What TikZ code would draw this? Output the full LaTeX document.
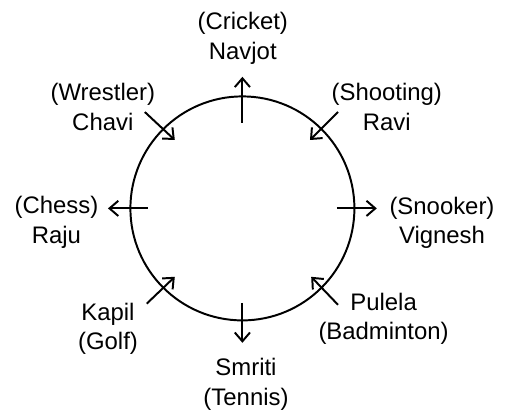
\documentclass[tikz,border=0pt]{standalone}
\usepackage{fontspec}
\setmainfont{Liberation Sans}
\usetikzlibrary{arrows.meta}

\begin{document}
\begin{tikzpicture}[
        every node/.style={align=center, inner sep=0pt, font=\fontsize{17}{21.3}\selectfont},
        spoke/.style={line width=1.4pt, -{Straight Barb[length=2.2mm, width=3.8mm]}}
    ]
        \useasboundingbox (-6.06,-5.19) rectangle (6.84,5.21);
        \draw[line width=1.4pt] (0,0) circle(2.8);
        % names round the table
        \node (navjot) at (0.01,4.26) {(Cricket)\\Navjot};
        \node (chavi) at (-3.49,2.54) {(Wrestler)\\Chavi};
        \node (ravi) at (3.61,2.54) {(Shooting)\\Ravi};
        \node (raju) at (-4.65,-0.34) {(Chess)\\Raju};
        \node (vignesh) at (4.99,-0.36) {(Snooker)\\Vignesh};
        \node (kapil) at (-3.36,-3.01) {Kapil\\(Golf)};
        \node (pulela) at (3.53,-2.76) {Pulela\\(Badminton)};
        \node (smriti) at (0.09,-4.39) {Smriti\\(Tennis)};
        % facing outside
        \coordinate (navjot-a) at (90:2.14);
        \coordinate (navjot-b) at (90:3.29);
        \coordinate (raju-a) at (180:2.36);
        \coordinate (raju-b) at (180:3.36);
        \coordinate (vignesh-a) at (0:2.36);
        \coordinate (vignesh-b) at (0:3.36);
        \coordinate (smriti-a) at (270:2.36);
        \coordinate (smriti-b) at (270:3.36);
        \draw[spoke] (navjot-a) -- (navjot-b);
        \draw[spoke] (raju-a) -- (raju-b);
        \draw[spoke] (vignesh-a) -- (vignesh-b);
        \draw[spoke] (smriti-a) -- (smriti-b);
        % facing centre
        \coordinate (chavi-a) at (-2.44,2.41);
        \coordinate (chavi-b) at (-1.69,1.71);
        \coordinate (ravi-a) at (2.39,2.41);
        \coordinate (ravi-b) at (1.69,1.71);
        \coordinate (pulela-a) at (2.39,-2.41);
        \coordinate (pulela-b) at (1.72,-1.71);
        \coordinate (kapil-a) at (-2.39,-2.38);
        \coordinate (kapil-b) at (-1.69,-1.71);
        \draw[spoke] (chavi-a) -- (chavi-b);
        \draw[spoke] (ravi-a) -- (ravi-b);
        \draw[spoke] (pulela-a) -- (pulela-b);
        \draw[spoke] (kapil-a) -- (kapil-b);
    \end{tikzpicture}
\end{document}
